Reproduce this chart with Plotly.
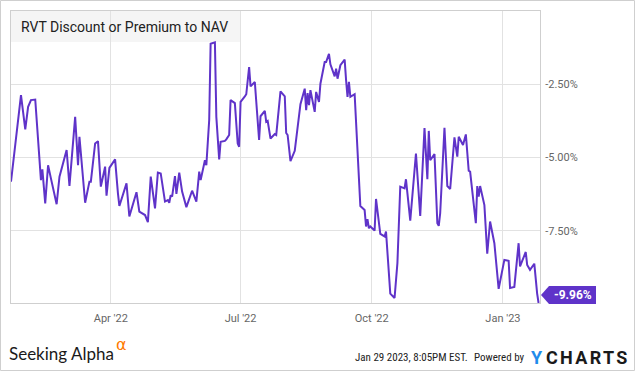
import plotly.graph_objects as go

# ---- data ----
dates = [
    "2022-01-21", "2022-01-28", "2022-01-31", "2022-02-02", "2022-02-04", "2022-02-07",
    "2022-02-11", "2022-02-12", "2022-02-14", "2022-02-16", "2022-02-18", "2022-02-22",
    "2022-02-24", "2022-03-01", "2022-03-03", "2022-03-07", "2022-03-09", "2022-03-10",
    "2022-03-14", "2022-03-17", "2022-03-18", "2022-03-21", "2022-03-23", "2022-03-25",
    "2022-03-28", "2022-03-29", "2022-03-31", "2022-04-04", "2022-04-06", "2022-04-07",
    "2022-04-12", "2022-04-14", "2022-04-19", "2022-04-21", "2022-04-25", "2022-04-27",
    "2022-04-29", "2022-05-02", "2022-05-04", "2022-05-06", "2022-05-09", "2022-05-11",
    "2022-05-12", "2022-05-13", "2022-05-14", "2022-05-16", "2022-05-17", "2022-05-19",
    "2022-05-21", "2022-05-24", "2022-05-28", "2022-05-31", "2022-06-02", "2022-06-03",
    "2022-06-06", "2022-06-07", "2022-06-09", "2022-06-10", "2022-06-13", "2022-06-14",
    "2022-06-16", "2022-06-17", "2022-06-20", "2022-06-21", "2022-06-23", "2022-06-24",
    "2022-06-27", "2022-06-29", "2022-06-30", "2022-07-01", "2022-07-04", "2022-07-05",
    "2022-07-07", "2022-07-08", "2022-07-11", "2022-07-14", "2022-07-15", "2022-07-18",
    "2022-07-19", "2022-07-20", "2022-07-22", "2022-07-25", "2022-07-26", "2022-07-29",
    "2022-08-01", "2022-08-02", "2022-08-03", "2022-08-05", "2022-08-08", "2022-08-12",
    "2022-08-15", "2022-08-16", "2022-08-17", "2022-08-18", "2022-08-19", "2022-08-22",
    "2022-08-23", "2022-08-25", "2022-08-26", "2022-08-29", "2022-08-30", "2022-09-01",
    "2022-09-02", "2022-09-05", "2022-09-06", "2022-09-07", "2022-09-09", "2022-09-12",
    "2022-09-13", "2022-09-14", "2022-09-15", "2022-09-16", "2022-09-19", "2022-09-20",
    "2022-09-23", "2022-09-26", "2022-09-27", "2022-09-28", "2022-09-29", "2022-09-30",
    "2022-10-03", "2022-10-04", "2022-10-06", "2022-10-07", "2022-10-10", "2022-10-11",
    "2022-10-14", "2022-10-17", "2022-10-19", "2022-10-21", "2022-10-24", "2022-10-25",
    "2022-10-28", "2022-11-01", "2022-11-04", "2022-11-07", "2022-11-09", "2022-11-10",
    "2022-11-11", "2022-11-14", "2022-11-16", "2022-11-17", "2022-11-18", "2022-11-21",
    "2022-11-23", "2022-11-25", "2022-11-28", "2022-11-30", "2022-12-01", "2022-12-04",
    "2022-12-06", "2022-12-08", "2022-12-09", "2022-12-13", "2022-12-14", "2022-12-15",
    "2022-12-16", "2022-12-19", "2022-12-21", "2022-12-23", "2022-12-26", "2022-12-29",
    "2023-01-02", "2023-01-05", "2023-01-06", "2023-01-09", "2023-01-12", "2023-01-13",
    "2023-01-17", "2023-01-18", "2023-01-20", "2023-01-23", "2023-01-25", "2023-01-26",
]
discount_pct = [
    -5.82, -2.87, -4.04, -3.27, -3.04, -3.02,
    -5.77, -5.40, -6.56, -5.26, -5.71, -6.59,
    -5.65, -4.74, -5.97, -3.61, -5.26, -4.29,
    -6.54, -5.82, -5.82, -4.52, -4.44, -5.99,
    -5.31, -6.30, -5.35, -5.06, -6.22, -6.65,
    -5.88, -7.01, -6.18, -6.84, -6.96, -7.20,
    -5.65, -6.73, -5.51, -5.54, -6.50, -6.45,
    -6.54, -6.28, -6.33, -5.63, -6.24, -5.51,
    -6.16, -6.69, -6.13, -6.50, -5.48, -5.77,
    -5.09, -5.26, -3.72, -1.12, -1.07, -3.61,
    -5.06, -4.46, -4.43, -4.38, -4.23, -3.04,
    -3.14, -4.52, -4.63, -3.10, -2.91, -2.84,
    -1.91, -2.57, -2.42, -4.40, -3.59, -3.41,
    -3.78, -3.75, -4.35, -4.20, -4.23, -2.74,
    -2.91, -4.16, -4.23, -5.12, -4.77, -3.18,
    -2.65, -3.38, -2.80, -3.21, -2.70, -3.44,
    -2.76, -3.10, -2.48, -1.74, -1.74, -1.46,
    -1.82, -2.23, -1.97, -2.31, -1.85, -1.66,
    -2.36, -2.93, -2.42, -2.93, -2.84, -3.84,
    -6.65, -6.79, -7.35, -7.10, -7.41, -7.35,
    -7.49, -6.41, -7.35, -7.60, -7.69, -7.52,
    -9.64, -9.79, -8.60, -5.99, -6.05, -5.74,
    -7.15, -4.86, -6.99, -3.99, -5.74, -4.09,
    -5.09, -4.88, -7.24, -7.33, -6.90, -3.98,
    -5.97, -6.07, -4.31, -4.97, -4.29, -4.57,
    -4.21, -5.45, -5.48, -7.24, -5.97, -6.33,
    -5.97, -6.62, -8.28, -7.18, -7.92, -9.48,
    -8.49, -8.52, -9.45, -9.41, -7.92, -8.71,
    -8.22, -8.66, -8.83, -8.62, -9.64, -9.96,
]
x_tick_vals = ["2022-04-01", "2022-07-01", "2022-10-01", "2023-01-01"]
x_tick_text = ["Apr '22", "Jul '22", "Oct '22", "Jan '23"]
y_tick_vals = [-7.5, -5.0, -2.5]
y_tick_text = ["-7.50%", "-5.00%", "-2.50%"]
title_text = "RVT Discount or Premium to NAV"
timestamp_text = "Jan 29 2023, 8:05PM EST."

# ---- styling ----
W, H = 635, 371
ML, MR, MT, MB = 11, 95, 11, 68
PW, PH = W - ML - MR, H - MT - MB
PURPLE = "#5f33c9"
Y_RANGE = [-9.96, 0.0]
X_RANGE = ["2022-01-21", "2023-01-27"]
NARROW = "Liberation Sans Narrow, Roboto Condensed, Arial Narrow, Roboto"


def px_x(x):
    return (x - ML) / PW


def px_y(y):
    return (H - MB - y) / PH


fig = go.Figure()
fig.add_trace(go.Scatter(
    x=dates, y=discount_pct, mode="lines",
    line=dict(color=PURPLE, width=2), hoverinfo="skip", showlegend=False,
))

last_val = discount_pct[-1]
anchor_y = (last_val - Y_RANGE[0]) / (Y_RANGE[1] - Y_RANGE[0])

shapes = [
    # title box
    dict(type="rect", xref="x domain", yref="y domain", x0=0, x1=px_x(240.3),
         y0=px_y(42), y1=1, fillcolor="#f5f5f5", line=dict(width=0), layer="below"),
    # outer frame
    dict(type="rect", xref="paper", yref="paper", x0=px_x(0.5), x1=px_x(634.5),
         y0=px_y(370.5), y1=px_y(0.5), line=dict(color="#cfcfcf", width=1),
         fillcolor="rgba(0,0,0,0)", layer="below"),
    # last-value callout
    dict(type="path", xref="paper", yref="paper", xsizemode="pixel", ysizemode="pixel",
         xanchor=1, yanchor=anchor_y,
         path="M 1 8 L 9 17 L 56 17 L 56 -1 L 9 -1 Z",
         fillcolor=PURPLE, line=dict(width=0)),
]

annotations = [
    dict(text=title_text, xref="paper", yref="paper", x=px_x(19), y=px_y(26.5),
         xanchor="left", yanchor="middle", showarrow=False,
         font=dict(family="Roboto", size=14, color="#222222")),
    dict(text=f"{last_val:.2f}%", xref="paper", yref="y", x=1, y=last_val,
         xanchor="center", yanchor="middle", xshift=32.5, yshift=8, showarrow=False,
         font=dict(family="Roboto", size=12, color="white", weight="bold")),
    dict(text="Seeking Alpha", xref="paper", yref="paper", x=px_x(7), y=px_y(353),
         xanchor="left", yanchor="middle", showarrow=False,
         font=dict(family="Lato", size=17, color="#1a1a1a")),
    dict(text="α", xref="paper", yref="paper", x=px_x(121.5), y=px_y(344),
         xanchor="center", yanchor="middle", showarrow=False,
         font=dict(family="DejaVu Sans", size=16, color="#ff7a00")),
    dict(text=timestamp_text, xref="paper", yref="paper", x=px_x(470), y=px_y(357.5),
         xanchor="right", yanchor="middle", showarrow=False,
         font=dict(family=NARROW, size=11, color="#222222")),
    dict(text="Powered by", xref="paper", yref="paper", x=px_x(527), y=px_y(357.5),
         xanchor="right", yanchor="middle", showarrow=False,
         font=dict(family=NARROW, size=11, color="#222222")),
    dict(text="Y", xref="paper", yref="paper", x=px_x(529), y=px_y(357),
         xanchor="left", yanchor="middle", showarrow=False,
         font=dict(family="Roboto", size=18, color="#1f8ceb", weight="bold")),
    dict(text='<span style="letter-spacing:2.3px">CHARTS</span>', xref="paper", yref="paper",
         x=px_x(544), y=px_y(357), xanchor="left", yanchor="middle", showarrow=False,
         font=dict(family="Roboto", size=18, color="#1a1a1a", weight="bold")),
]

fig.update_layout(
    width=W, height=H,
    margin=dict(l=ML, r=MR, t=MT, b=MB, pad=0),
    paper_bgcolor="white", plot_bgcolor="rgba(0,0,0,0)",
    shapes=shapes, annotations=annotations,
    xaxis=dict(
        type="date", range=X_RANGE, tickvals=x_tick_vals, ticktext=x_tick_text,
        showgrid=True, gridcolor="#e2e2e2", gridwidth=1,
        showline=True, mirror=True, linecolor="#cfcfcf", linewidth=1,
        ticks="", zeroline=False, ticklabelstandoff=5,
        tickfont=dict(family="Roboto", size=11, color="#666666"),
    ),
    yaxis=dict(
        range=Y_RANGE, side="right", tickvals=y_tick_vals, ticktext=y_tick_text,
        showgrid=True, gridcolor="#e2e2e2", gridwidth=1,
        showline=True, mirror=True, linecolor="#cfcfcf", linewidth=1,
        ticks="", zeroline=False, ticklabelstandoff=2,
        tickfont=dict(family="Roboto", size=11, color="#666666"),
    ),
)

fig.write_html(
    "out.html",
    config={"displayModeBar": False},
    post_script="document.body.style.margin='0';document.body.style.overflow='hidden';",
)
